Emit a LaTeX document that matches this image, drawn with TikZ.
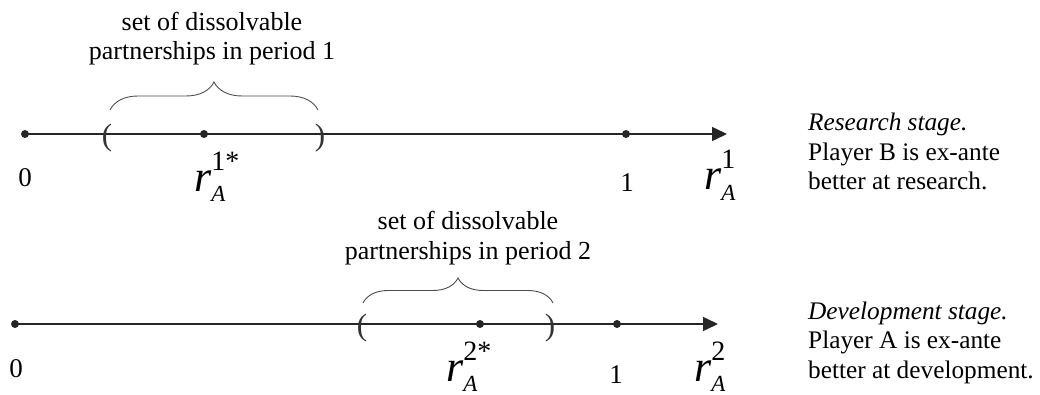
\documentclass[tikz,border=0pt]{standalone}
\usepackage{fontspec}
\setmainfont{Liberation Serif}
\usetikzlibrary{arrows.meta,decorations.pathreplacing}
\newcommand{\rlabel}[2]{\textit{r}\rlap{\raisebox{-10pt}{\fontsize{23}{26}\selectfont\textit{A}}}\raisebox{21pt}{\fontsize{28}{30}\selectfont #1#2}}
\begin{document}
\begin{tikzpicture}[x=1pt,y=-1pt,
 txt/.style={font=\fontsize{26}{29.5}\selectfont, inner sep=0pt},
 info/.style={font=\fontsize{25.3}{29.5}\selectfont, inner sep=0pt, anchor=base west, align=left},
 lab/.style={font=\fontsize{44}{50}\selectfont, inner sep=0pt, anchor=base west},
 num/.style={font=\fontsize{27}{30}\selectfont, inner sep=0pt, anchor=base},
 paren/.style={font=\fontsize{31}{36}\selectfont, inner sep=0pt, text=black!80},
 dotnode/.style={circle, fill=black!85, inner sep=0pt, minimum size=8pt},
 axisline/.style={line width=1.5pt, draw=black!85, -{Triangle[length=15pt,width=14pt]}},
 brc/.style={decorate, decoration={brace, amplitude=#1}, line width=0.9pt, draw=black!70},
]
\useasboundingbox (0,0) rectangle (1040,395);

% ---------- top axis (period 1) ----------
\node[dotnode] (a0) at (25,134) {};
\node[dotnode] (astar) at (204,134) {};
\node[dotnode] (a1) at (626,134) {};
\coordinate (aend) at (727,134);
\draw[axisline] (a0.center) -- (aend);
\node[paren] (alp) at (107,138) {(};
\node[paren] (arp) at (320,138) {)};
\coordinate (abl) at (110,110);
\coordinate (abr) at (318,110);
\draw[brc=28] (abl) -- (abr);
\node[txt, anchor=base, align=center] (atxt) at (212,60) {set of dissolvable\\partnerships in period 1};
\node[num] (a0l) at (25,187) {0};
\node[num] (a1l) at (627,192) {1};
\node[lab] (arstar) at (194,192) {\rlabel{1}{*}};
\node[lab] (ar) at (704,190) {\rlabel{1}{}};
\node[info] (ainfo) at (808,190) {\textit{Research stage.}\\Player B is ex-ante\\better at research.};

% ---------- bottom axis (period 2) ----------
\node[dotnode] (b0) at (15,324) {};
\node[dotnode] (bstar) at (480,324) {};
\node[dotnode] (b1) at (617,324) {};
\coordinate (bend) at (718,324);
\draw[axisline] (b0.center) -- (bend);
\node[paren] (blp) at (362,328) {(};
\node[paren] (brp) at (550,328) {)};
\coordinate (bbl) at (363,303);
\coordinate (bbr) at (553,303);
\draw[brc=25] (bbl) -- (bbr);
\node[txt, anchor=base, align=center] (btxt) at (468,259) {set of dissolvable\\partnerships in period 2};
\node[num] (b0l) at (16,377) {0};
\node[num] (b1l) at (616,383) {1};
\node[lab] (brstar) at (446,381) {\rlabel{2}{*}};
\node[lab] (br) at (694,381) {\rlabel{2}{}};
\node[info] (binfo) at (808,378) {\textit{Development stage.}\\Player A is ex-ante\\better at development.};
\end{tikzpicture}
\end{document}
